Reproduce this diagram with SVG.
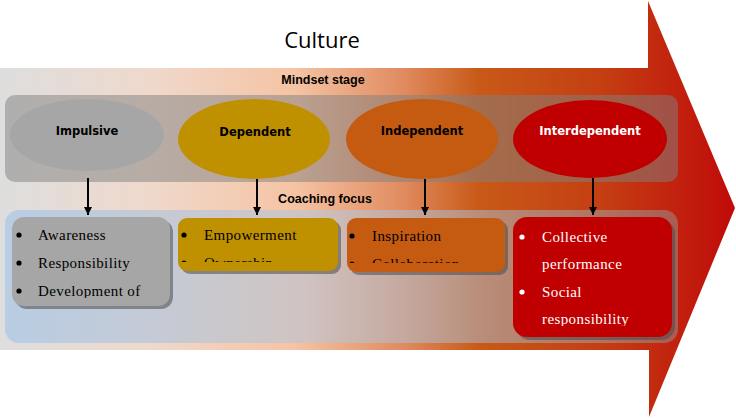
<svg xmlns="http://www.w3.org/2000/svg" width="736" height="418" viewBox="0 0 736 418">
  <defs>
    <linearGradient id="arrowGrad" gradientUnits="userSpaceOnUse" x1="0" y1="0" x2="736" y2="0">
      <stop offset="0" stop-color="#dedede"/>
      <stop offset="0.2" stop-color="#efd9cc"/>
      <stop offset="0.4" stop-color="#f5c4a4"/>
      <stop offset="0.55" stop-color="#e08a5e"/>
      <stop offset="0.65" stop-color="#c85a18"/>
      <stop offset="0.82" stop-color="#c43e12"/>
      <stop offset="1" stop-color="#c00a0a"/>
    </linearGradient>
    <linearGradient id="panel2Grad" gradientUnits="userSpaceOnUse" x1="5" y1="0" x2="678" y2="0">
      <stop offset="0" stop-color="#b4cbe4" stop-opacity="0.9"/>
      <stop offset="0.45" stop-color="#c4c4cc" stop-opacity="0.75"/>
      <stop offset="1" stop-color="#9a8a8a" stop-opacity="0.55"/>
    </linearGradient>
    <marker id="ah" viewBox="0 0 10 10" refX="10" refY="5" markerWidth="4" markerHeight="4" orient="auto" markerUnits="strokeWidth">
      <path d="M0,0 L10,5 L0,10 z" fill="#000"/>
    </marker>
    <clipPath id="c1"><rect x="12" y="217" width="158" height="81"/></clipPath>
    <clipPath id="c2"><rect x="178" y="218" width="160" height="44"/></clipPath>
    <clipPath id="c3"><rect x="347" y="218" width="158" height="45"/></clipPath>
    <clipPath id="c4"><rect x="513" y="217" width="159" height="109"/></clipPath>
  </defs>
  <style>
    .lbl { font-family: "DejaVu Sans", Verdana, sans-serif; font-weight: bold; font-size: 11.5px; text-anchor: middle; }
    .hdr { font-family: "Liberation Sans", Arial, sans-serif; font-weight: bold; font-size: 12.5px; text-anchor: middle; fill: #000; }
    .item { font-family: "Liberation Serif", "Times New Roman", serif; font-size: 15px; letter-spacing: 0.4px; }
    .shadow { fill: #4a4a4a; opacity: 0.55; }
    .conn { stroke: #000; stroke-width: 2; fill: none; }
  </style>

  <!-- big arrow -->
  <g id="culture-arrow">
    <path d="M0,68 L648,68 L648,1 L735,208 L649,417 L649,350 L0,350 Z" fill="url(#arrowGrad)"/>
    <text x="322" y="48" font-family="'Open Sans', 'Liberation Sans', sans-serif" font-size="22" text-anchor="middle" fill="#000">Culture</text>
  </g>

  <!-- panels -->
  <g id="mindset-panel">
    <rect x="5" y="95" width="673" height="87" rx="10" fill="#7f7f7f" fill-opacity="0.5"/>
    <text class="hdr" x="323" y="84">Mindset stage</text>
  </g>
  <g id="coaching-panel">
    <rect x="5" y="210" width="673" height="133" rx="14" fill="url(#panel2Grad)"/>
    <text class="hdr" x="325" y="203">Coaching focus</text>
  </g>

  <!-- mindset ellipses -->
  <g id="impulsive">
    <ellipse cx="87" cy="135" rx="77" ry="36" fill="#a6a6a6"/>
    <text class="lbl" x="87" y="135" fill="#000">Impulsive</text>
  </g>
  <g id="dependent">
    <ellipse cx="254" cy="139" rx="76" ry="40" fill="#bf9000"/>
    <text class="lbl" x="255" y="136" fill="#000">Dependent</text>
  </g>
  <g id="independent">
    <ellipse cx="422" cy="139" rx="76" ry="40" fill="#c55a11"/>
    <text class="lbl" x="422" y="135" fill="#000">Independent</text>
  </g>
  <g id="interdependent">
    <ellipse cx="590" cy="139" rx="77" ry="39" fill="#c00000"/>
    <text class="lbl" x="590" y="135" fill="#fff">Interdependent</text>
  </g>

  <!-- connectors -->
  <g id="connectors">
    <line class="conn" x1="88" y1="178" x2="88" y2="215" marker-end="url(#ah)"/>
    <line class="conn" x1="257" y1="179" x2="257" y2="215" marker-end="url(#ah)"/>
    <line class="conn" x1="425" y1="179" x2="425" y2="215" marker-end="url(#ah)"/>
    <line class="conn" x1="593" y1="178" x2="593" y2="215" marker-end="url(#ah)"/>
  </g>

  <!-- coaching boxes -->
  <g id="box-impulsive">
    <rect class="shadow" x="15" y="220" width="158" height="89" rx="12"/>
    <rect x="12" y="217" width="158" height="89" rx="12" fill="#a6a6a6"/>
    <g clip-path="url(#c1)" class="item" fill="#000">
      <circle cx="19" cy="235" r="2.6"/>
      <text x="38" y="240">Awareness</text>
      <circle cx="19" cy="263" r="2.6"/>
      <text x="38" y="268">Responsibility</text>
      <circle cx="19" cy="291" r="2.6"/>
      <text x="38" y="296">Development of</text>
    </g>
  </g>
  <g id="box-dependent">
    <rect class="shadow" x="181" y="221" width="160" height="53" rx="9"/>
    <rect x="178" y="218" width="160" height="53" rx="9" fill="#bf9000"/>
    <g clip-path="url(#c2)" class="item" fill="#000">
      <circle cx="184" cy="235" r="2.6"/>
      <text x="204" y="240">Empowerment</text>
      <circle cx="184" cy="263" r="2.6"/>
      <text x="204" y="268">Ownership</text>
    </g>
  </g>
  <g id="box-independent">
    <rect class="shadow" x="350" y="221" width="158" height="54" rx="9"/>
    <rect x="347" y="218" width="158" height="54" rx="9" fill="#c55a11"/>
    <g clip-path="url(#c3)" class="item" fill="#000">
      <circle cx="352" cy="236" r="2.6"/>
      <text x="372" y="241">Inspiration</text>
      <circle cx="352" cy="264" r="2.6"/>
      <text x="372" y="269">Collaboration</text>
    </g>
  </g>
  <g id="box-interdependent">
    <rect class="shadow" x="516" y="220" width="159" height="120" rx="14"/>
    <rect x="513" y="217" width="159" height="120" rx="14" fill="#c00000"/>
    <g clip-path="url(#c4)" class="item" fill="#fff">
      <circle cx="522" cy="237" r="2.6"/>
      <text x="542" y="242">Collective</text>
      <text x="542" y="269">performance</text>
      <circle cx="522" cy="292" r="2.6"/>
      <text x="542" y="297">Social</text>
      <text x="542" y="324">responsibility</text>
    </g>
  </g>
</svg>
